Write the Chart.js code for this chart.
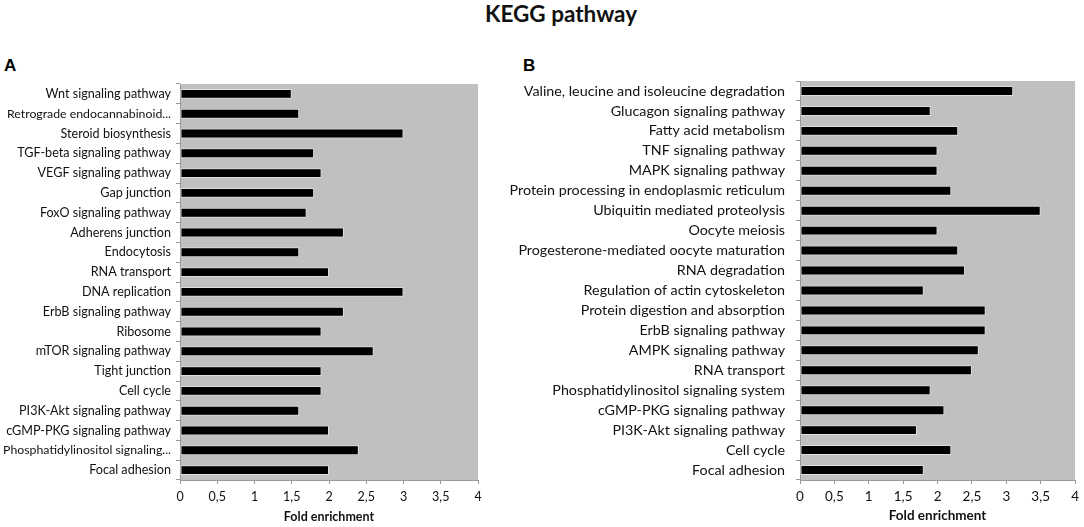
<!DOCTYPE html>
<html>
<head>
<meta charset="utf-8">
<script src="https://cdn.jsdelivr.net/npm/chart.js@4.4.1/dist/chart.umd.min.js"></script>
<style>
  body { margin: 0; background: #fff; width: 1084px; height: 527px; position: relative; overflow: hidden; font-family: Lato, sans-serif; }
  #title { position: absolute; top: 0; left: 485px; font: bold 22.5px Lato, sans-serif; color: #111; white-space: nowrap; }
  .panel-label { position: absolute; top: 56px; font: bold 17px "Liberation Sans", Arial, sans-serif; color: #000; }
  .box { position: absolute; top: 70px; height: 457px; }
</style>
</head>
<body>
<div id="title">KEGG pathway</div>
<div class="panel-label" style="left:4px">A</div>
<div class="panel-label" style="left:523px">B</div>
<div class="box" style="left:0; width:490px"><canvas id="chartA"></canvas></div>
<div class="box" style="left:510px; width:574px"><canvas id="chartB"></canvas></div>
<script>
// Panel A categories, top to bottom
const categoriesA = [
  'Wnt signaling pathway', 'Retrograde endocannabinoid...', 'Steroid biosynthesis',
  'TGF-beta signaling pathway', 'VEGF signaling pathway', 'Gap junction',
  'FoxO signaling pathway', 'Adherens junction', 'Endocytosis', 'RNA transport',
  'DNA replication', 'ErbB signaling pathway', 'Ribosome', 'mTOR signaling pathway',
  'Tight junction', 'Cell cycle', 'PI3K-Akt signaling pathway',
  'cGMP-PKG signaling pathway', 'Phosphatidylinositol signaling...', 'Focal adhesion'
];
const valuesA = [1.5, 1.6, 3.0, 1.8, 1.9, 1.8, 1.7, 2.2, 1.6, 2.0, 3.0, 2.2, 1.9, 2.6, 1.9, 1.9, 1.6, 2.0, 2.4, 2.0];

// Panel B categories, top to bottom
const categoriesB = [
  'Valine, leucine and isoleucine degradation', 'Glucagon signaling pathway',
  'Fatty acid metabolism', 'TNF signaling pathway', 'MAPK signaling pathway',
  'Protein processing in endoplasmic reticulum', 'Ubiquitin mediated proteolysis',
  'Oocyte meiosis', 'Progesterone-mediated oocyte maturation', 'RNA degradation',
  'Regulation of actin cytoskeleton', 'Protein digestion and absorption',
  'ErbB signaling pathway', 'AMPK signaling pathway', 'RNA transport',
  'Phosphatidylinositol signaling system', 'cGMP-PKG signaling pathway',
  'PI3K-Akt signaling pathway', 'Cell cycle', 'Focal adhesion'
];
const valuesB = [3.1, 1.9, 2.3, 2.0, 2.0, 2.2, 3.5, 2.0, 2.3, 2.4, 1.8, 2.7, 2.7, 2.6, 2.5, 1.9, 2.1, 1.7, 2.2, 1.8];

const xTickLabels = ['0', '0,5', '1', '1,5', '2', '2,5', '3', '3,5', '4'];
const axisTitle = 'Fold enrichment';

// grey plot background
const plotBackground = {
  id: 'plotBackground',
  beforeDraw(chart) {
    const { ctx, chartArea: a } = chart;
    ctx.save();
    ctx.fillStyle = '#c0c0c0';
    ctx.fillRect(a.left, a.top, a.right - a.left, a.bottom - a.top);
    ctx.restore();
  }
};

function makeChart(id, labels, values, opt) {
  return new Chart(document.getElementById(id), {
    type: 'bar',
    data: {
      labels: labels,
      datasets: [{
        data: values,
        backgroundColor: '#000',
        borderColor: '#dedede',
        borderWidth: 1,
        borderSkipped: false,
        barPercentage: 0.5,
        categoryPercentage: 1
      }]
    },
    options: {
      indexAxis: 'y',
      responsive: true,
      maintainAspectRatio: false,
      animation: false,
      layout: { padding: { top: opt.top, right: opt.right, bottom: 0, left: 0 } },
      plugins: { legend: { display: false }, tooltip: { enabled: false } },
      scales: {
        x: {
          min: 0, max: 4,
          ticks: {
            stepSize: 0.5,
            color: '#111',
            font: { family: 'Lato', size: opt.tickSize },
            padding: 5,
            callback: (v, i) => xTickLabels[i]
          },
          grid: { drawOnChartArea: false, color: '#999', tickLength: 4 },
          border: { color: '#999' },
          title: {
            display: true, text: axisTitle, color: '#111',
            font: { family: 'Lato', size: opt.tickSize, weight: 'bold' },
            padding: { top: 2, bottom: 3 }
          },
          afterFit: s => { s.height = 47; }
        },
        y: {
          ticks: {
            color: '#111',
            // truncated names ("...") a touch smaller so they fit the margin
            font: ctx => ({ family: 'Lato', size: labels[ctx.index] && labels[ctx.index].endsWith('...') ? opt.labelSize - 0.3 : opt.labelSize }),
            padding: opt.labelPad,
            autoSkip: false
          },
          grid: { drawOnChartArea: false, color: '#999', tickLength: 4, offset: true },
          border: { color: '#999' },
          afterFit: s => { s.width = opt.yWidth; s.paddingTop = 0; s.paddingBottom = 0; }
        }
      }
    },
    plugins: [plotBackground]
  });
}

makeChart('chartA', categoriesA, valuesA, { top: 14, right: 12, yWidth: 180, labelSize: 12.6, labelPad: 5, tickSize: 12.5 });
makeChart('chartB', categoriesB, valuesB, { top: 11, right: 6, yWidth: 290, labelSize: 14.3, labelPad: 11, tickSize: 13.5 });
</script>
</body>
</html>
